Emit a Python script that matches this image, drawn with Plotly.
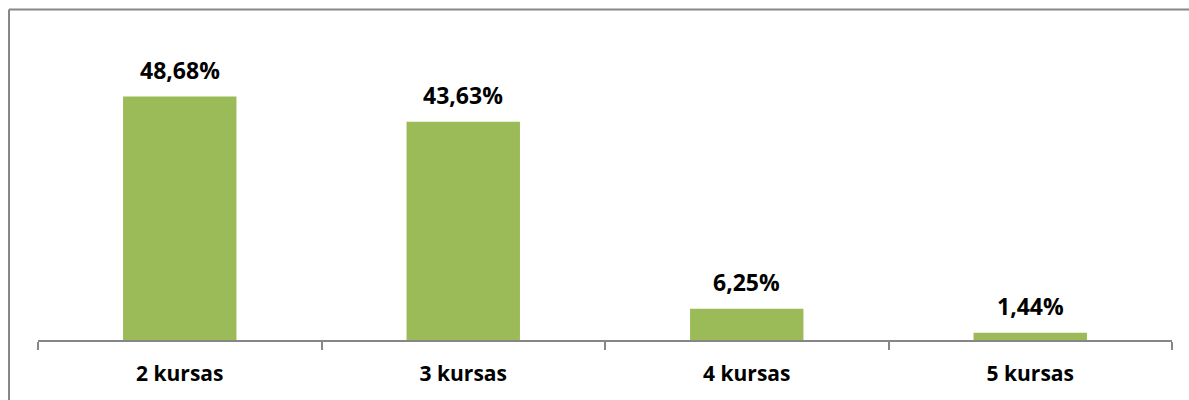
import plotly.graph_objects as go

categories = ["2 kursas", "3 kursas", "4 kursas", "5 kursas"]
values = [48.68, 43.63, 6.25, 1.44]
labels = ["48,68%", "43,63%", "6,25%", "1,44%"]

fig = go.Figure(go.Bar(
    x=categories, y=values,
    marker=dict(color="#9BBB59", line=dict(width=0)),
    cliponaxis=False,
))

annotations = [
    dict(x=c, y=v, text=t, xref="x", yref="y", showarrow=False,
         yanchor="middle", yshift=27,
         font=dict(family="Open Sans", size=23, color="#000000", weight="bold"))
    for c, v, t in zip(categories, values, labels)
]

fig.update_layout(
    width=1189, height=400,
    margin=dict(l=38, r=17, t=40, b=60),
    paper_bgcolor="white", plot_bgcolor="white",
    bargap=0.6, showlegend=False,
    font=dict(family="Open Sans", color="#000000"),
    annotations=annotations,
    xaxis=dict(
        type="category", showline=True, linecolor="#868686", linewidth=1.5,
        ticks="outside", tickson="boundaries", ticklen=8, tickcolor="#868686", tickwidth=1.5,
        tickfont=dict(family="Open Sans", size=21, color="#000000", weight="bold"),
        ticklabelstandoff=14,
        showgrid=False, zeroline=False, fixedrange=True,
    ),
    yaxis=dict(range=[0, 60], visible=False, showgrid=False, zeroline=False, fixedrange=True),
    shapes=[
        dict(type="line", xref="paper", yref="paper",
             x0=-29/1134, x1=1189/1134, y0=(400-9.5-60)/300, y1=(400-9.5-60)/300,
             line=dict(color="#878787", width=2)),
        dict(type="line", xref="paper", yref="paper",
             x0=-29/1134, x1=-29/1134, y0=(400-9.5-60)/300, y1=-70/300,
             line=dict(color="#878787", width=2)),
    ],
)
fig.write_html("out.html", config={"displayModeBar": False},
               post_script="document.body.style.margin='0';")
